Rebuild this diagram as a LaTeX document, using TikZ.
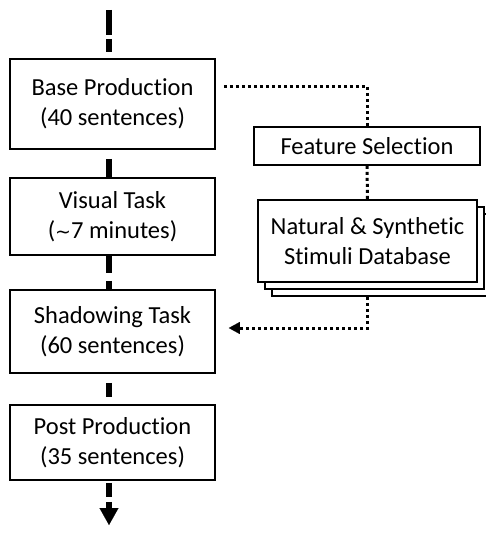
\documentclass[tikz,border=0pt]{standalone}
\usepackage{fontspec}
\setmainfont{Carlito}[Ligatures=NoCommon]
\newfontfamily\symfnt{DejaVu Sans}
\usetikzlibrary{arrows.meta,calc}
\begin{document}
\begin{tikzpicture}[x=1pt,y=-1pt,
 box/.style={draw=black,line width=1.6pt,fill=white,align=center,inner sep=0pt,font=\fontsize{24.5}{30}\selectfont},
 spine/.style={line width=5.5pt,black},
 dotline/.style={line width=3pt,dash pattern=on 3pt off 3pt}]
\useasboundingbox (0,0) rectangle (486,535);
% left column
\node[box,minimum width=205pt,minimum height=90pt] (base) at (112.5,104) {Base Production\\(40 sentences)};
\node[box,minimum width=205pt,minimum height=77pt] (vis) at (112.5,216.5) {Visual Task\\({\symfnt\fontsize{19}{30}\selectfont ∼}7 minutes)};
\node[box,minimum width=205pt,minimum height=83pt] (shad) at (112.5,331.5) {Shadowing Task\\(60 sentences)};
\node[box,minimum width=205pt,minimum height=75pt] (post) at (112.5,442.5) {Post Production\\(35 sentences)};
\coordinate (top) at (109,10);
\coordinate (bot) at (109,525);
\draw[spine,dash pattern=on 25pt off 4pt on 13pt off 20pt] (top) -- (top |- base.north);
\draw[spine,dash pattern=on 0pt off 9pt on 18pt off 20pt] (top |- base.south) -- (top |- vis.north);
\draw[spine,dash pattern=on 17pt off 8pt on 8pt off 20pt] (top |- vis.south) -- (top |- shad.north);
\draw[spine,dash pattern=on 0pt off 9pt on 14pt off 20pt] (top |- shad.south) -- (top |- post.north);
\draw[spine,dash pattern=on 0pt off 2pt on 14pt off 5pt on 60pt,-{Triangle[width=19pt,length=17pt,line width=0.1pt]}] (top |- post.south) -- (bot);
% right column
\node[box,minimum width=219pt,minimum height=82pt] (db3) at (381.5,255) {};
\node[box,minimum width=219pt,minimum height=82pt] (db2) at (374.5,248) {};
\node[box,minimum width=219pt,minimum height=82pt] (db) at (367.5,241) {Natural \& Synthetic\\Stimuli Database};
\node[box,minimum width=226pt,minimum height=38pt] (feat) at (367,146) {Feature Selection};
\draw[dotline] ([xshift=8pt,yshift=18pt]base.east) -| (feat.north);
\draw[dotline] (feat.south) -- (db.north);
\draw[dotline,-{Triangle[width=12pt,length=11pt,line width=0.1pt]}] (db.south |- db3.south) |- ([xshift=13pt,yshift=3.5pt]shad.east);
\end{tikzpicture}
\end{document}
